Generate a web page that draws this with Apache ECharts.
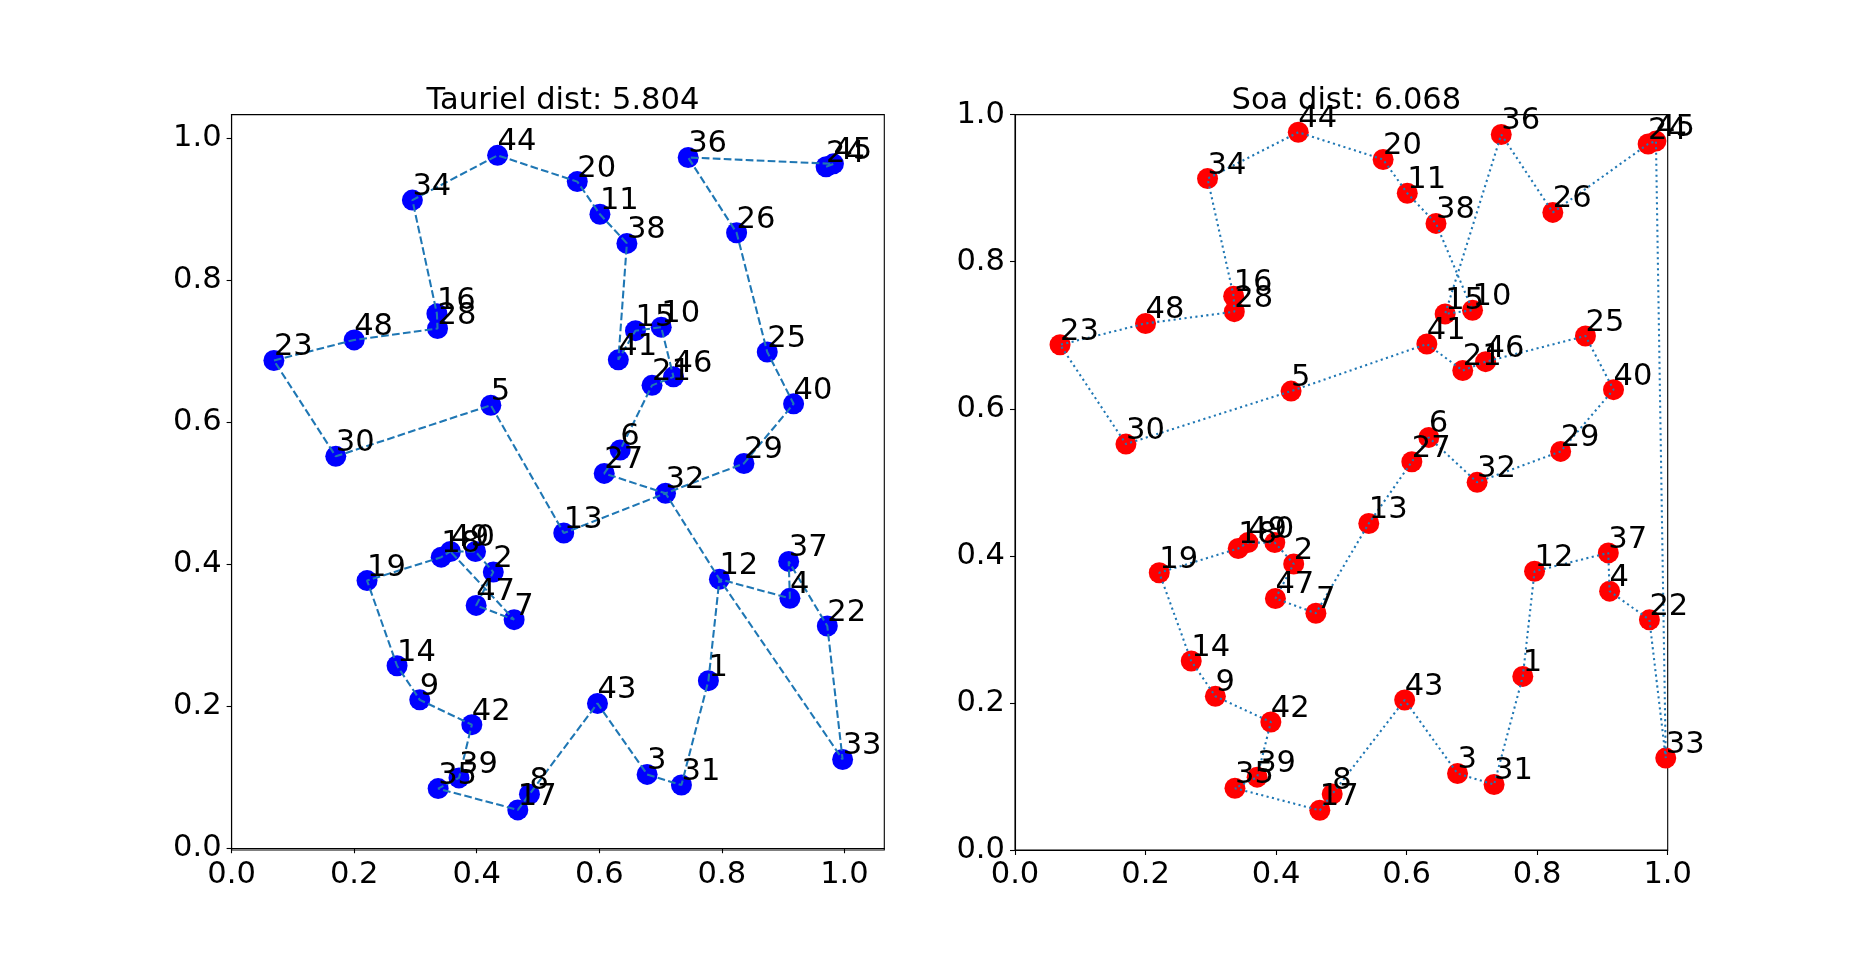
<!DOCTYPE html>
<html>
<head>
<meta charset="utf-8">
<script src="https://cdn.jsdelivr.net/npm/echarts@6.0.0/dist/echarts.min.js"></script>
<style>
  html, body { margin: 0; padding: 0; background: #fff; }
  #main { width: 1853px; height: 955px; }
</style>
</head>
<body>
<div id="main"></div>
<script>
// city coordinates, index = city number
let pointX = [0.398, 0.778, 0.427, 0.678, 0.911, 0.423, 0.634, 0.461, 0.486, 0.307,
              0.701, 0.601, 0.796, 0.542, 0.270, 0.659, 0.335, 0.467, 0.342, 0.221,
              0.564, 0.686, 0.972, 0.069, 0.970, 0.874, 0.824, 0.608, 0.336, 0.836,
              0.170, 0.734, 0.708, 0.997, 0.295, 0.337, 0.745, 0.909, 0.645, 0.371,
              0.917, 0.631, 0.392, 0.597, 0.434, 0.982, 0.721, 0.399, 0.200, 0.357]
let pointY = [0.418, 0.236, 0.389, 0.104, 0.352, 0.624, 0.561, 0.322, 0.076, 0.209,
              0.734, 0.893, 0.379, 0.444, 0.257, 0.729, 0.753, 0.054, 0.410, 0.377,
              0.939, 0.652, 0.313, 0.687, 0.960, 0.699, 0.867, 0.528, 0.732, 0.542,
              0.552, 0.089, 0.500, 0.125, 0.913, 0.084, 0.973, 0.404, 0.852, 0.099,
              0.626, 0.688, 0.174, 0.204, 0.976, 0.964, 0.664, 0.342, 0.716, 0.418]

// visiting order drawn in each panel
let tourTauriel = [24, 45, 36, 26, 25, 40, 29, 32, 27, 6, 21, 46, 10, 15, 41, 38, 11, 20, 44, 34,
                   16, 28, 48, 23, 30, 5, 13, 32, 12, 4, 37, 22, 33, 12, 1, 31, 3, 43, 8, 17,
                   35, 39, 42, 9, 14, 19, 18, 49, 0, 2, 47, 7, 49]
let tourSoa = [44, 34, 16, 28, 48, 23, 30, 5, 41, 21, 46, 25, 40, 29, 32, 6, 27, 13, 7, 47,
               2, 0, 49, 18, 19, 14, 9, 42, 39, 35, 17, 8, 43, 3, 31, 1, 12, 37, 4, 22,
               33, 45, 24, 26, 36, 15, 10, 38, 11, 20, 44]

let titles = ['Tauriel dist: 5.804', 'Soa dist: 6.068']
let tickValues = [0, 0.2, 0.4, 0.6, 0.8, 1.0]

let font = 'DejaVu Sans'
let fontSize = 30.56

let ele = echarts.init(document.getElementById('main'), null, { renderer: 'canvas' })

let grids = [
    { left: 231.6, top: 114.6, width: 652.7, height: 735.4 },
    { left: 1015, top: 114.6, width: 652.7, height: 735.4 }
]
let xRanges = [[0, 1.065], [0, 1]]
let yRanges = [[-0.0025, 1.0334], [0, 1]]

function makeAxis(range, idx, margin) {
    return {
        type: 'value',
        gridIndex: idx,
        min: range[0],
        max: range[1],
        axisLine: { show: true, lineStyle: { color: '#000', width: 1.1 } },
        axisTick: { show: true, customValues: tickValues, length: 5, lineStyle: { color: '#000', width: 1.1 } },
        axisLabel: {
            customValues: tickValues,
            formatter: v => v.toFixed(1),
            color: '#000',
            fontFamily: font,
            fontSize: fontSize,
            margin: margin
        },
        splitLine: { show: false }
    }
}

function cityData() {
    return pointX.map((x, i) => ({ value: [x, pointY[i]], name: String(i) }))
}

function tourData(tour) {
    return tour.map(i => [pointX[i], pointY[i]])
}

let series = []
let tours = [tourTauriel, tourSoa]
let dotColors = ['#0000ff', '#ff0000']
let dashTypes = [[7.7, 3.3], [2.1, 3.4]]

for (let k = 0; k < 2; k++) {
    // cities
    series.push({
        type: 'scatter',
        xAxisIndex: k,
        yAxisIndex: k,
        symbolSize: 21,
        itemStyle: { color: dotColors[k], opacity: 1 },
        data: cityData(),
        z: 2,
        clip: false
    })
    // route
    series.push({
        type: 'line',
        xAxisIndex: k,
        yAxisIndex: k,
        symbol: 'none',
        lineStyle: { color: '#1f77b4', width: 2.08, type: dashTypes[k] },
        data: tourData(tours[k]),
        z: 3
    })
    // city numbers
    series.push({
        type: 'scatter',
        xAxisIndex: k,
        yAxisIndex: k,
        symbolSize: 21,
        itemStyle: { color: 'rgba(0,0,0,0)' },
        label: {
            show: true,
            formatter: '{b}',
            position: [10.5, 13],
            align: 'left',
            verticalAlign: 'bottom',
            color: '#000',
            opacity: 1,
            textBorderWidth: 0,
            fontFamily: font,
            fontSize: fontSize
        },
        data: cityData(),
        z: 4,
        clip: false
    })
}

const option = {
    animation: false,
    backgroundColor: '#fff',
    title: titles.map((t, k) => ({
        text: t,
        left: grids[k].left + grids[k].width / 2,
        top: 81,
        textAlign: 'center',
        textStyle: { color: '#000', fontFamily: font, fontSize: fontSize, fontWeight: 'normal' }
    })),
    grid: grids.map(g => Object.assign({ show: true, borderColor: '#000', borderWidth: 1.1, containLabel: false }, g)),
    xAxis: xRanges.map((r, k) => makeAxis(r, k, 10)),
    yAxis: yRanges.map((r, k) => makeAxis(r, k, 10)),
    series: series
}

ele.setOption(option)
</script>
</body>
</html>
